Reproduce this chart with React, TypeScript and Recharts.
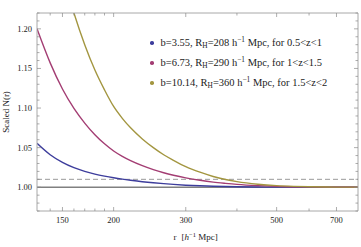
import React from 'react';
import { LineChart, Line, XAxis, YAxis, ReferenceLine } from 'recharts';

// r in h^-1 Mpc
const radii = [130, 140, 150, 160, 170, 180, 190, 200, 210, 220, 235, 250, 265, 280, 300, 325, 350, 375, 400, 450, 500, 550, 600, 700, 790];

// scaled N(r)
const lowZ = [1.0555, 1.0411, 1.0314, 1.0247, 1.02, 1.0166, 1.014, 1.0119, 1.0102, 1.0088, 1.007, 1.0056, 1.0045, 1.0036, 1.0026, 1.0018, 1.0013, 1.0009, 1.0006, 1.0003, 1.0001, 1.0001, 1.0, 1.0, 1.0];
const midZ = [1.2, 1.157, 1.124, 1.0995, 1.081, 1.0663, 1.0548, 1.0458, 1.039, 1.0336, 1.0272, 1.0222, 1.0183, 1.0152, 1.0119, 1.0088, 1.0065, 1.0049, 1.0036, 1.002, 1.0011, 1.0006, 1.0004, 1.0001, 1.0];
const highZ = [1.4, 1.328, 1.269, 1.22, 1.18, 1.148, 1.123, 1.102, 1.087, 1.075, 1.061, 1.05, 1.041, 1.034, 1.026, 1.019, 1.0136, 1.0098, 1.0071, 1.0038, 1.002, 1.0011, 1.0006, 1.0002, 1.0001];

const rTicks = [140, 150, 160, 170, 180, 190, 200, 300, 400, 500, 600, 700];
const rLabels = [150, 200, 300, 500, 700];
const nTicks = [0.97, 0.98, 0.99, 1.0, 1.01, 1.02, 1.03, 1.04, 1.05, 1.06, 1.07, 1.08, 1.09, 1.1, 1.11, 1.12, 1.13, 1.14, 1.15, 1.16, 1.17, 1.18, 1.19, 1.2, 1.21, 1.22];
const nLabels = [1.0, 1.05, 1.1, 1.15, 1.2];

const series = [
  { key: 'low', color: '#3d3d9c', b: '3.55', rh: '208', z: '0.5<z<1' },
  { key: 'mid', color: '#a33d73', b: '6.73', rh: '290', z: '1<z<1.5' },
  { key: 'high', color: '#a39640', b: '10.14', rh: '360', z: '1.5<z<2' },
];

const data = radii.map((r, i) => ({ r, low: lowZ[i], mid: midZ[i], high: highZ[i] }));

const font = '"Liberation Serif", "DejaVu Serif", serif';
const frame = '#a8a8a8';
const tickColor = '#8a8a8a';

const isIn = (v: number, list: number[]) => list.some((l) => Math.abs(l - v) < 1e-6);

const BottomTick = (props: any) => {
  const { x, y, payload } = props;
  const major = isIn(payload.value, rLabels);
  return (
    <g>
      <line x1={x} x2={x} y1={y} y2={y - (major ? 4 : 2.5)} stroke={tickColor} strokeWidth={0.7} />
      {major && (
        <text x={x} y={y + 12} textAnchor="middle" fontFamily={font} fontSize={8.5} fill="#222">
          {payload.value}
        </text>
      )}
    </g>
  );
};

const TopTick = (props: any) => {
  const { x, y, payload } = props;
  const major = isIn(payload.value, rLabels);
  return <line x1={x} x2={x} y1={y} y2={y + (major ? 4 : 2.5)} stroke={tickColor} strokeWidth={0.7} />;
};

const LeftTick = (props: any) => {
  const { x, y, payload } = props;
  const major = isIn(payload.value, nLabels);
  return (
    <g>
      <line x1={x} x2={x + (major ? 4 : 2.5)} y1={y} y2={y} stroke={tickColor} strokeWidth={0.7} />
      {major && (
        <text x={x - 5} y={y + 3} textAnchor="end" fontFamily={font} fontSize={8.5} fill="#222">
          {payload.value.toFixed(2)}
        </text>
      )}
    </g>
  );
};

const RightTick = (props: any) => {
  const { x, y, payload } = props;
  const major = isIn(payload.value, nLabels);
  return <line x1={x} x2={x - (major ? 4 : 2.5)} y1={y} y2={y} stroke={tickColor} strokeWidth={0.7} />;
};

const XLabel = (props: any) => {
  const { x, y, width } = props.viewBox;
  const cx = x + width / 2;
  return (
    <text y={y + 29} fontFamily={font} fontSize={9} fill="#222">
      <tspan x={cx - 24}>r</tspan>
      <tspan x={cx - 16}>[</tspan>
      <tspan fontStyle="italic">h</tspan>
      <tspan fontSize={6.5} dy={-3.5}>−1</tspan>
      <tspan dy={3.5}> Mpc]</tspan>
    </text>
  );
};

const YLabel = (props: any) => {
  const { y, height } = props.viewBox;
  const cy = y + height / 2;
  return (
    <text x={9} y={cy} transform={`rotate(-90 9 ${cy})`} textAnchor="middle" fontFamily={font} fontSize={9} fill="#222">
      Scaled N(r)
    </text>
  );
};

const small: React.CSSProperties = { fontSize: '0.7em', position: 'relative' };

const LegendBox = () => (
  <div style={{ position: 'absolute', left: 150, top: 33, fontFamily: font, fontSize: 10.5, color: '#222' }}>
    {series.map((s) => (
      <div key={s.key} style={{ height: 20, lineHeight: '20px', whiteSpace: 'nowrap', display: 'flex', alignItems: 'center' }}>
        <span style={{ display: 'inline-block', width: 3.5, height: 3.5, borderRadius: '50%', background: s.color, marginRight: 7 }} />
        <span>
          b={s.b}, R<span style={{ ...small, top: '0.3em' }}>H</span>={s.rh} h<span style={{ ...small, top: '-0.45em' }}>−1</span> Mpc, for {s.z}
        </span>
      </div>
    ))}
  </div>
);

export default function App() {
  return (
    <div style={{ position: 'absolute', left: 0, top: 0, width: 361, height: 247, background: '#fff' }}>
      <LineChart width={361} height={247} data={data} margin={{ top: 12, right: 2, left: 7, bottom: 0 }}>
        <XAxis
          dataKey="r"
          type="number"
          scale="log"
          domain={[130, 790]}
          allowDataOverflow
          ticks={rTicks}
          interval={0}
          height={36}
          tickSize={0}
          tickMargin={0}
          tickLine={false}
          axisLine={{ stroke: frame }}
          tick={(p: any) => <BottomTick {...p} />}
          label={(p: any) => <XLabel {...p} />}
        />
        <XAxis
          xAxisId="top"
          orientation="top"
          dataKey="r"
          type="number"
          scale="log"
          domain={[130, 790]}
          allowDataOverflow
          ticks={rTicks}
          interval={0}
          height={1}
          tickSize={0}
          tickMargin={0}
          tickLine={false}
          axisLine={{ stroke: frame }}
          tick={(p: any) => <TopTick {...p} />}
        />
        <YAxis
          type="number"
          domain={[0.97, 1.22]}
          allowDataOverflow
          ticks={nTicks}
          interval={0}
          width={30}
          tickSize={0}
          tickMargin={0}
          tickLine={false}
          axisLine={{ stroke: frame }}
          tick={(p: any) => <LeftTick {...p} />}
          label={(p: any) => <YLabel {...p} />}
        />
        <YAxis
          yAxisId="right"
          orientation="right"
          type="number"
          domain={[0.97, 1.22]}
          allowDataOverflow
          ticks={nTicks}
          interval={0}
          width={1}
          tickSize={0}
          tickMargin={0}
          tickLine={false}
          axisLine={{ stroke: frame }}
          tick={(p: any) => <RightTick {...p} />}
        />
        <ReferenceLine y={1.01} stroke="#9a9a9a" strokeDasharray="5 3" strokeWidth={1} />
        <ReferenceLine y={1} stroke="#808080" strokeWidth={1.3} />
        {series.map((s) => (
          <Line
            key={s.key}
            dataKey={s.key}
            type="monotone"
            stroke={s.color}
            strokeWidth={1.4}
            dot={false}
            isAnimationActive={false}
          />
        ))}
      </LineChart>
      <LegendBox />
    </div>
  );
}
